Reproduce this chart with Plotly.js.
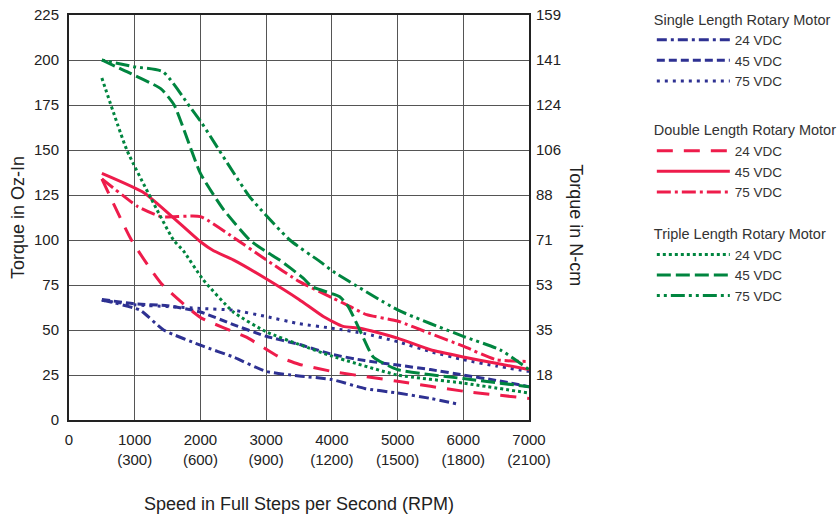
<!DOCTYPE html>
<html>
<head>
<meta charset="utf-8">
<script src="https://cdn.plot.ly/plotly-3.0.1.min.js"></script>
<style>html,body{margin:0;padding:0;background:#fff;}#chart{width:840px;height:517px;}</style>
</head>
<body>
<div id="chart"></div>
<script>
// Speed in full steps per second, torque in oz-in
const single24X = [500, 1080, 1440, 2040, 2500, 3000, 3500, 4000, 4500, 5000, 5500, 5900];
const single24Y = [66.7, 61, 50, 41, 35, 27, 24.5, 22.5, 17.5, 15, 12, 9];
const single45X = [500, 1000, 1500, 2000, 2500, 3000, 3500, 4000, 4500, 5000, 5500, 6000, 6500, 7000];
const single45Y = [67, 64.5, 63.5, 60, 53, 46.5, 42, 36.5, 33, 30.5, 28, 25, 22, 18.5];
const single75X = [500, 1000, 1500, 2000, 2500, 3000, 3500, 4000, 4500, 5000, 5500, 6000, 6500, 7000];
const single75Y = [66.5, 64, 63, 62, 61, 57.5, 53.5, 51, 48, 43.5, 38, 33.5, 30, 27];

const double24X = [500, 950, 1400, 2000, 2700, 3200, 3500, 4000, 5000, 6000, 7000];
const double24Y = [134, 100, 76, 57, 46, 35, 31, 27, 21.5, 16, 12];
const double45X = [500, 1150, 2000, 2200, 2500, 3000, 3500, 3870, 4170, 4430, 5000, 5500, 6000, 6500, 7000];
const double45Y = [137, 126, 99, 94, 89, 78.5, 67, 57.5, 52, 51, 45.5, 39, 35, 31.5, 28];
const double75X = [500, 1050, 1400, 2000, 2500, 3000, 3500, 4000, 4280, 4530, 5000, 5500, 6000, 6500, 7000];
const double75Y = [134, 118.5, 113, 113, 101.5, 89, 77, 68, 63, 58.5, 55, 48, 41, 33.5, 32.5];

const triple24X = [500, 880, 1250, 1590, 1740, 2040, 2500, 3000, 3500, 4000, 5000, 6000, 7000];
const triple24Y = [190, 150, 123, 100, 94, 78, 60, 49, 42, 35.5, 25, 20.5, 15];
const triple45X = [500, 880, 1400, 1600, 2000, 2350, 2750, 3000, 3200, 3560, 3700, 4120, 4250, 4450, 4630, 5000, 6000, 7000];
const triple45Y = [200, 193.5, 184, 175, 137, 117, 100, 93.5, 89, 79, 74, 68.5, 63, 48, 35, 28, 23, 18.5];
const triple75X = [500, 980, 1430, 1840, 2020, 2750, 3360, 3820, 4020, 5010, 6000, 6560, 7000];
const triple75Y = [200, 196.3, 193.5, 174, 165, 124, 100, 88, 82.5, 61, 46.5, 39, 28];

const seriesNames = ['24 VDC', '45 VDC', '75 VDC'];
const groupTitles = ['Single Length Rotary Motor', 'Double Length Rotary Motor', 'Triple Length Rotary Motor'];

const xTickVals = [0, 1000, 2000, 3000, 4000, 5000, 6000, 7000];
const xTickText = ['0', '1000<br>(300)', '2000<br>(600)', '3000<br>(900)', '4000<br>(1200)', '5000<br>(1500)', '6000<br>(1800)', '7000<br>(2100)'];
const yTickVals = [0, 25, 50, 75, 100, 125, 150, 175, 200, 225];
const y2TickVals = [25, 50, 75, 100, 125, 150, 175, 200, 225];
const y2TickText = ['18', '35', '53', '71', '88', '106', '124', '141', '159'];

const BLUE = '#2E3192', RED = '#EE1C4B', GREEN = '#00853F';
const W = 3;
function tr(x, y, color, dash, name, legend) {
  return {
    x: x, y: y, type: 'scatter', mode: 'lines', name: name, legend: legend,
    line: {color: color, width: W, dash: dash, shape: 'spline', smoothing: 0.5},
    hoverinfo: 'skip'
  };
}
const data = [
  tr(single24X, single24Y, BLUE, '10px,4px,3px,4px', seriesNames[0], 'legend'),
  tr(single45X, single45Y, BLUE, '8px,4px', seriesNames[1], 'legend'),
  tr(single75X, single75Y, BLUE, '3px,5px', seriesNames[2], 'legend'),
  tr(double24X, double24Y, RED, '16px,11px', seriesNames[0], 'legend2'),
  tr(double45X, double45Y, RED, 'solid', seriesNames[1], 'legend2'),
  tr(double75X, double75Y, RED, '14px,4px,3px,4px', seriesNames[2], 'legend2'),
  tr(triple24X, triple24Y, GREEN, '3px,3px', seriesNames[0], 'legend3'),
  tr(triple45X, triple45Y, GREEN, '14px,5px', seriesNames[1], 'legend3'),
  tr(triple75X, triple75Y, GREEN, '3px,4px,3px,4px,14px,4px', seriesNames[2], 'legend3'),
  {x: [], y: [], yaxis: 'y2', type: 'scatter', mode: 'lines', showlegend: false, hoverinfo: 'skip'}
];

function leg(title, y) {
  return {
    x: 1.267, y: y, xanchor: 'left', yanchor: 'top',
    title: {text: title, font: {size: 14.5, color: '#333'}},
    font: {size: 13.5, color: '#333'}, itemwidth: 73, traceorder: 'normal',
    bgcolor: 'rgba(0,0,0,0)', maxheight: 400
  };
}

const TITLE_FONT = {size: 18, color: '#222'};
const layout = {
  width: 840, height: 517,
  margin: {l: 69, r: 311, t: 15, b: 97, autoexpand: false},
  paper_bgcolor: '#fff', plot_bgcolor: '#fff',
  font: {family: '"Liberation Sans", Arial, sans-serif', size: 15, color: '#222'},
  xaxis: {
    range: [0, 7000], tickvals: xTickVals, ticktext: xTickText,
    showgrid: true, gridcolor: '#555', gridwidth: 1,
    showline: true, linecolor: '#222', linewidth: 2, mirror: true,
    ticks: '', ticklabelstandoff: 5, zeroline: false,
    tickfont: {size: 15, color: '#222'},
    title: {text: 'Speed in Full Steps per Second (RPM)', font: TITLE_FONT, standoff: 31}
  },
  yaxis: {
    range: [0, 225], tickvals: yTickVals,
    showgrid: true, gridcolor: '#555', gridwidth: 1,
    showline: true, linecolor: '#222', linewidth: 2, mirror: true,
    ticks: '', ticklabelstandoff: 5, zeroline: false,
    tickfont: {size: 15, color: '#222'},
    title: {text: 'Torque in Oz-In', font: TITLE_FONT, standoff: 5}
  },
  yaxis2: {
    range: [0, 225], overlaying: 'y', side: 'right', anchor: 'x',
    tickvals: y2TickVals, ticktext: y2TickText,
    showgrid: false, showline: false, zeroline: false, ticks: '', ticklabelstandoff: 6,
    tickfont: {size: 15, color: '#222'}
  },
  annotations: [{
    text: 'Torque in N-cm', xref: 'paper', yref: 'paper', x: 1.102, y: 0.481,
    xanchor: 'center', yanchor: 'middle', textangle: 90, showarrow: false,
    font: TITLE_FONT
  }],
  showlegend: true,
  legend: leg(groupTitles[0], 1.023),
  legend2: leg(groupTitles[1], 0.749),
  legend3: leg(groupTitles[2], 0.493)
};
Plotly.newPlot('chart', data, layout, {staticPlot: true, displayModeBar: false});
</script>
</body>
</html>
